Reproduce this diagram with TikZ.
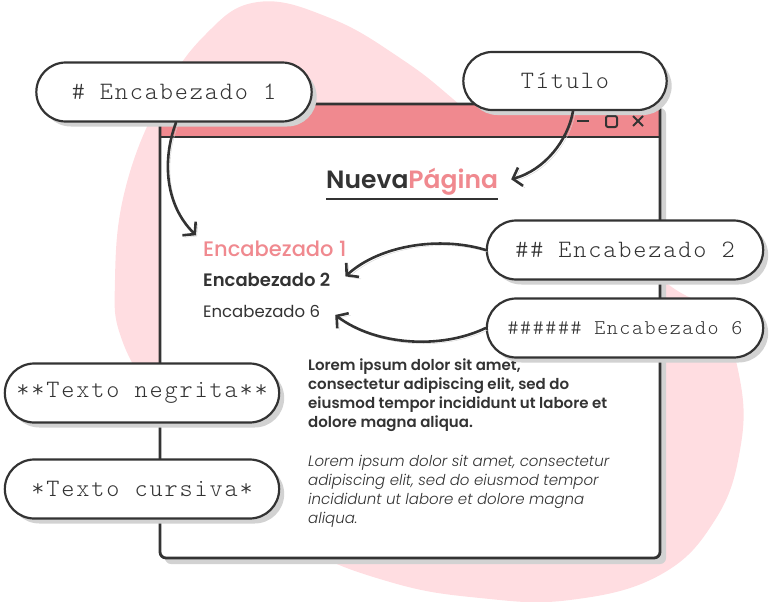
\documentclass[tikz,border=0pt]{standalone}
\usepackage{fontspec}
\usetikzlibrary{arrows.meta,shapes.misc,shadows}
\newfontfamily\monofont{Latin Modern Mono Light}[LetterSpace=7.5]
\newfontfamily\pagefont{Poppins}
\newfontfamily\pagemed{Poppins Medium}
\newfontfamily\pagesemi{Poppins SemiBold}
\newfontfamily\pagelight{Poppins Light}
\definecolor{ink}{HTML}{333333}
\definecolor{rosa}{HTML}{F0898F}
\definecolor{mancha}{HTML}{FFDDE1}
\definecolor{sombra}{HTML}{D2D2D2}
\begin{document}
\begin{tikzpicture}[x=1pt,y=-1pt,
mdbox/.style={
	rounded rectangle,minimum width=282pt,minimum height=59pt,
	draw=ink,line width=2.2pt,fill=white,text=ink,
	font=\monofont\fontsize{25}{25}\selectfont,
	drop shadow={shadow xshift=5pt,shadow yshift=-5pt,fill=sombra,opacity=1}},
flecha/.style={draw=ink,line width=2.6pt,line cap=round,line join=round,
	-{Straight Barb[length=8pt,width=19pt]},
	preaction={draw=sombra,-{Straight Barb[length=8pt,width=19pt]},
		transform canvas={shift={(2,2)}}}},
texto/.style={anchor=base west,inner sep=0pt,text=ink}
]
\useasboundingbox (0,0) rectangle (771,602);
\fill[mancha] plot[smooth cycle,tension=0.7] coordinates {
(258,2) (330,18) (400,58) (460,105) (560,195) (665,282) (715,315) (740,380)
(740,450) (715,520) (660,575) (570,600) (480,598) (390,582) (300,545)
(220,480) (160,405) (122,340) (115,280) (125,190) (160,100) (205,35)};

% ventana
\fill[sombra,rounded corners=6pt] (165,108) rectangle (666,564);
\fill[white,rounded corners=6pt] (160,104) rectangle (660,558);
\fill[rosa,rounded corners=6pt] (160,104) rectangle (660,130);
\fill[rosa] (160,118) rectangle (660,137);
\draw[ink,line width=2.8pt] (160,137) -- (660,137);
\draw[ink,line width=2.8pt,rounded corners=6pt] (160,104) rectangle (660,558);
\draw[ink,line width=2pt] (577,121) -- (589,121);
\draw[ink,line width=2pt,rounded corners=2pt] (606,116) rectangle (617,127);
\draw[ink,line width=2pt] (633,116) -- (643,126) (633,126) -- (643,116);

\node[texto,font=\pagesemi\fontsize{25}{25}\selectfont] (ttl) at (326,188)
{Nueva\textcolor{rosa}{Página}};
\draw[ink,line width=2.6pt] ([yshift=-11pt]ttl.base west) -- ([yshift=-11pt]ttl.base east);
\node[texto,text=rosa,font=\pagemed\fontsize{21}{21}\selectfont] (h1) at (203,256) {Encabezado 1};
\node[texto,font=\pagesemi\fontsize{18}{18}\selectfont] (h2) at (203,286) {Encabezado 2};
\node[texto,font=\pagefont\fontsize{16.5}{16.5}\selectfont] (h6) at (203,317) {Encabezado 6};
\node[anchor=north west,inner sep=0pt,align=left,text=ink,
font=\pagesemi\fontsize{15}{19}\selectfont] (negrita) at (308,359)
{Lorem ipsum dolor sit amet,\\consectetur adipiscing elit, sed do\\
eiusmod tempor incididunt ut labore et\\dolore magna aliqua.};
\node[anchor=north west,inner sep=0pt,align=left,text=ink,
font=\pagelight\itshape\fontsize{15}{19}\selectfont] (cursiva) at (308,455)
{Lorem ipsum dolor sit amet, consectetur\\adipiscing elit, sed do eiusmod tempor\\
incididunt ut labore et dolore magna\\aliqua.};

\node[mdbox] (enc1) at (174,92) {\#\ Encabezado 1};
\node[mdbox,minimum width=210pt,minimum height=58pt] (tit) at (565,81) {Título};
\node[mdbox,minimum width=283pt] (enc2) at (625,250) {\#\#\ Encabezado 2};
\node[mdbox,minimum width=283pt,font=\monofont\fontsize{21}{21}\selectfont] (enc6) at (625,328)
{\#\#\#\#\#\#\ Encabezado 6};
\node[mdbox,minimum width=281pt] (neg) at (142,393) {**Texto negrita**};
\node[mdbox,minimum width=281pt] (cur) at (142,489) {*Texto cursiva*};

\draw[flecha] ([xshift=2pt]enc1.south) .. controls (162,160) and (165,205) .. ([xshift=-7pt,yshift=5pt]h1.north west);
\draw[flecha] ([xshift=8pt]tit.south) .. controls (568,140) and (545,170) .. ([xshift=13pt,yshift=2pt]ttl.east);
\draw[flecha] (enc2.west) .. controls (440,236) and (380,245) .. ([xshift=15pt,yshift=3pt]h2.east);
\draw[flecha] (enc6.west) .. controls (440,350) and (375,345) .. ([xshift=15pt,yshift=-4pt]h6.east);
\end{tikzpicture}
\end{document}
